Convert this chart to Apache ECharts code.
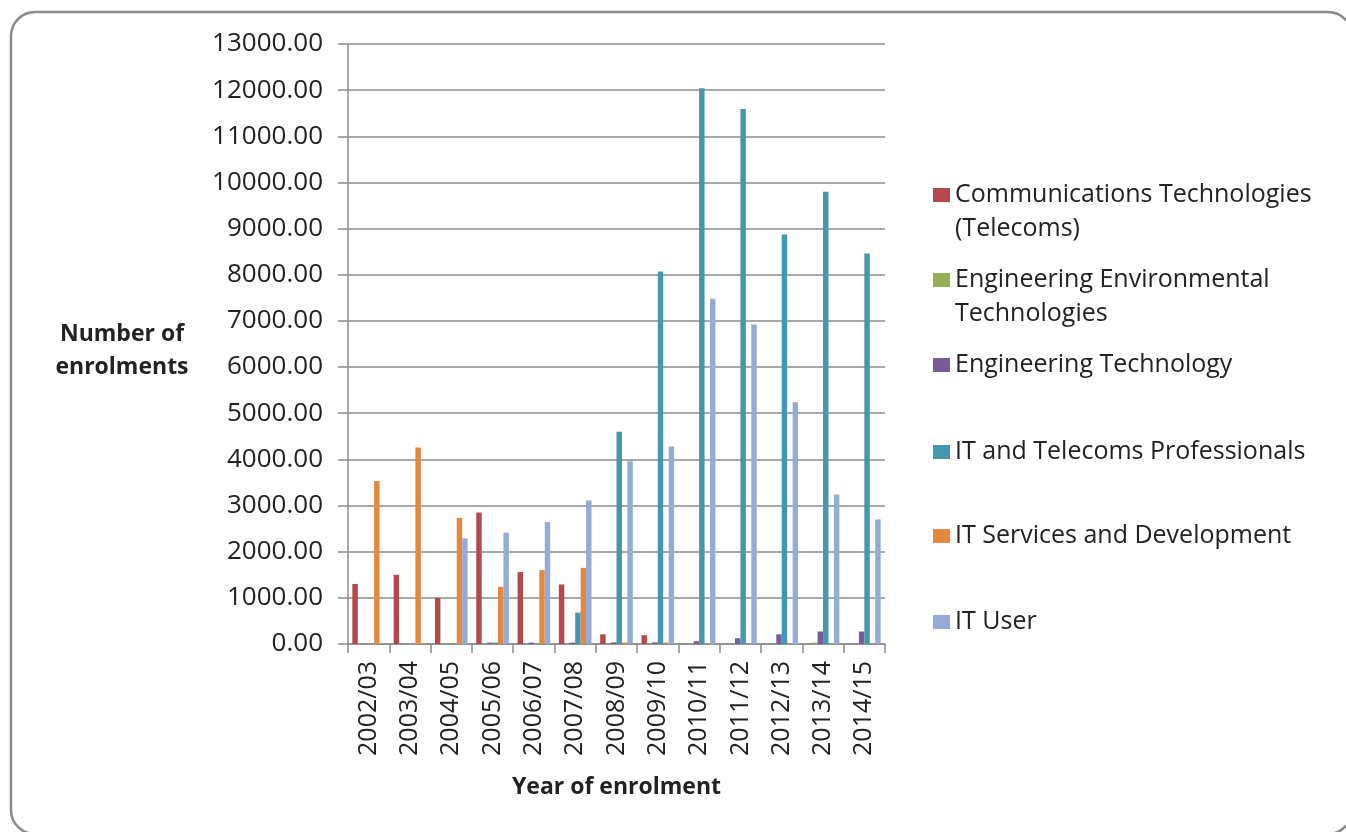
<!DOCTYPE html>
<html>
<head>
<meta charset="utf-8">
<script src="https://cdn.jsdelivr.net/npm/echarts@6/dist/echarts.min.js"></script>
<style>
html,body{margin:0;padding:0;background:#ffffff;}
#chart{width:1346px;height:832px;}
</style>
</head>
<body>
<div id="chart"></div>
<script>
// ---- data ----
const categories = ['2002/03','2003/04','2004/05','2005/06','2006/07','2007/08','2008/09','2009/10','2010/11','2011/12','2012/13','2013/14','2014/15'];
const seriesNames = ['Communications Technologies (Telecoms)','Engineering Environmental Technologies','Engineering Technology','IT and Telecoms Professionals','IT Services and Development','IT User'];
const legendLabels = ['Communications Technologies\n(Telecoms)','Engineering Environmental\nTechnologies','Engineering Technology','IT and Telecoms Professionals','IT Services and Development','IT User'];
const commsTelecoms = [1300,1500,1000,2850,1560,1290,210,190,0,0,0,0,0];
const engEnvironmental = [0,0,0,0,0,0,0,0,0,0,0,30,0];
const engTechnology = [0,0,0,30,30,30,35,35,60,125,210,270,270];
const itTelecomsPros = [0,0,0,30,0,680,4600,8070,12040,11590,8870,9800,8460];
const itServicesDev = [3530,4260,2730,1240,1600,1650,30,30,0,0,0,0,0];
const itUser = [0,0,2290,2410,2640,3110,3960,4280,7480,6920,5240,3240,2700];
const yTicks = {min:0, max:13000, interval:1000};

// ---- styling ----
const colors = ['#B5484A','#93B057','#775B9B','#4398B0','#E3883D','#95ABD5'];
const values = [commsTelecoms, engEnvironmental, engTechnology, itTelecomsPros, itServicesDev, itUser];
const FONT = 'Open Sans';
const gridColor = '#8c8c8c';
const textColor = '#222222';

// two-line legend entries get a leading blank line so the marker sits on the first text line
const legendTops = [144, 229, 348, 435, 519, 605];
const legends = seriesNames.map((name, i) => {
  const twoLine = legendLabels[i].indexOf('\n') >= 0;
  return {
    orient: 'vertical',
    left: 933,
    top: legendTops[i],
    padding: 0,
    itemWidth: 17,
    itemHeight: 14,
    icon: 'rect',
    selectedMode: false,
    data: [name],
    formatter: () => (twoLine ? '\n' : '') + legendLabels[i],
    textStyle: {fontFamily: FONT, fontSize: 25, color: textColor, lineHeight: 34}
  };
});

const chart = echarts.init(document.getElementById('chart'), null, {renderer: 'canvas'});
chart.setOption({
  animation: false,
  color: colors,
  graphic: [{
    type: 'rect',
    shape: {x: 11, y: 12, width: 1341, height: 822, r: 24},
    style: {fill: 'none', stroke: '#8a8a8a', lineWidth: 2.5},
    silent: true,
    z: 0
  }, {
    type: 'text',
    x: 122,
    y: 351,
    silent: true,
    style: {
      text: 'Number of\nenrolments',
      fontFamily: FONT, fontSize: 23, fontWeight: 'bold', fill: textColor,
      align: 'center', verticalAlign: 'middle', lineHeight: 33
    }
  }],
  legend: legends,
  grid: {left: 348, top: 44, right: 461, bottom: 188, containLabel: false},
  xAxis: {
    type: 'category',
    data: categories,
    boundaryGap: true,
    axisLine: {lineStyle: {color: gridColor, width: 1.5}},
    axisTick: {show: true, length: 9, interval: 0, lineStyle: {color: gridColor, width: 1.5}},
    axisLabel: {rotate: 90, interval: 0, margin: 17, fontFamily: FONT, fontSize: 25, color: textColor},
    name: 'Year of enrolment',
    nameLocation: 'middle',
    nameGap: 143,
    nameTextStyle: {fontFamily: FONT, fontSize: 23, fontWeight: 'bold', color: textColor, align: 'center', verticalAlign: 'middle'}
  },
  yAxis: {
    type: 'value',
    min: yTicks.min, max: yTicks.max, interval: yTicks.interval,
    axisLine: {show: true, lineStyle: {color: gridColor, width: 1.5}},
    axisTick: {show: true, length: 10, lineStyle: {color: gridColor, width: 1.5}},
    splitLine: {show: true, lineStyle: {color: gridColor, width: 1.5}},
    axisLabel: {margin: 25, fontFamily: FONT, fontSize: 26, color: textColor, formatter: v => v.toFixed(2)}
  },
  series: seriesNames.map((name, i) => ({
    name: name,
    type: 'bar',
    data: values[i],
    barGap: '0%',
    barCategoryGap: '21%',
    itemStyle: {color: colors[i]}
  }))
});
</script>
</body>
</html>
